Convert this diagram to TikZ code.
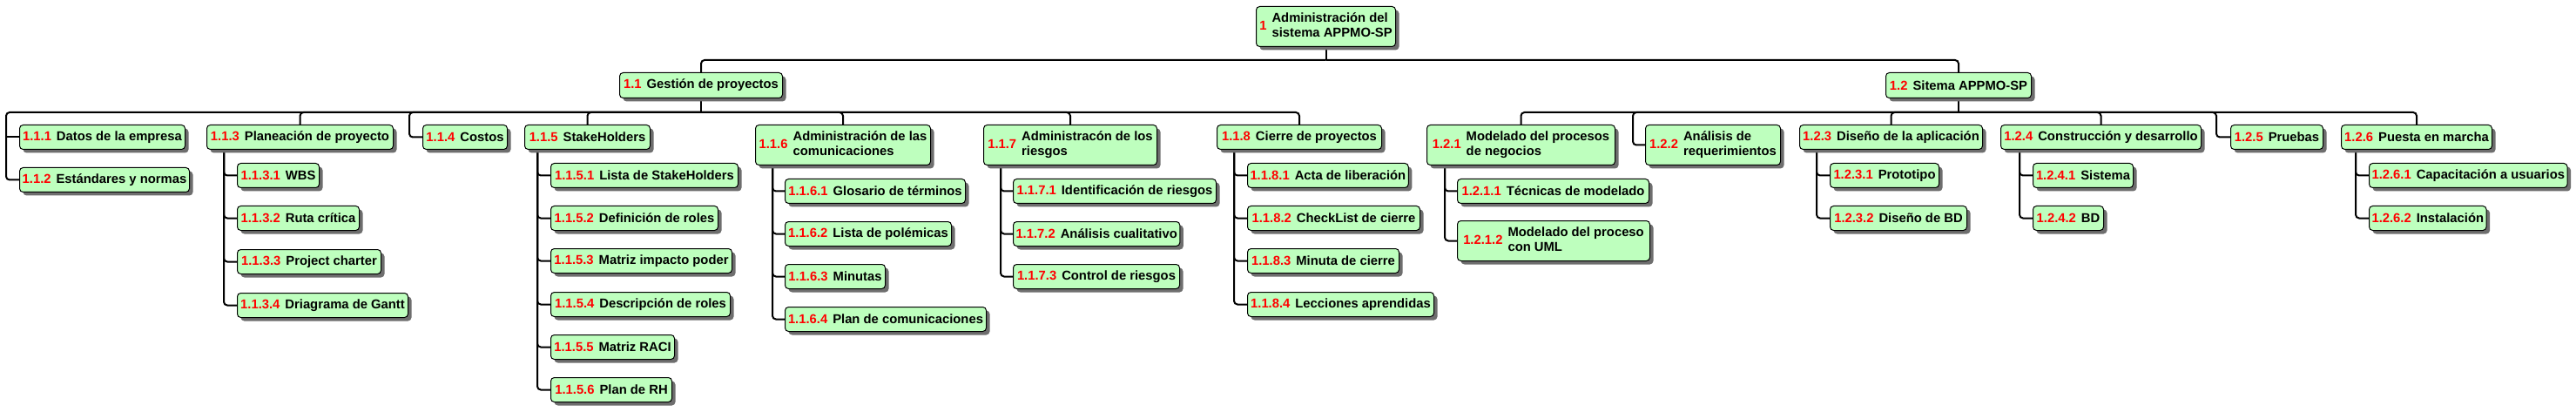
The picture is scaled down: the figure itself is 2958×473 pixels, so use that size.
\documentclass[tikz,border=0pt]{standalone}
\usepackage{fontspec}
\setmainfont{Liberation Sans}
\usetikzlibrary{shadows,backgrounds}
\definecolor{boxgreen}{RGB}{190,255,190}
\definecolor{numred}{RGB}{255,0,0}
\definecolor{shadowgray}{RGB}{110,110,110}
\newcommand{\wnum}[1]{\textcolor{numred}{#1}\hspace{6pt}}
\newcommand{\wtwo}[2]{\begin{tabular}{@{}l@{}}#1\\#2\end{tabular}}
\newcommand{\wbsnode}[6]{\node[wbsbox, minimum width={(#4-#2)*1pt}, minimum height={(#5-#3)*1pt}] (#1) at (#2,#3) {#6};}
\tikzset{
 wbsbox/.style={draw=black, line width=1pt, rounded corners=4pt, fill=boxgreen, anchor=north west,
   inner xsep=3pt, inner ysep=2pt, font=\fontsize{14.8}{16.5}\selectfont\bfseries,
   drop shadow={shadow xshift=4pt, shadow yshift=-4pt, fill=shadowgray, opacity=1}},
 conn/.style={draw=black, line width=2pt, rounded corners=4pt},
}
\begin{document}
\begin{tikzpicture}[x=1pt,y=-1pt]
\useasboundingbox (0,0) rectangle (2958,473);
% root and level 1
\wbsnode{root}{1442}{7}{1602}{53}{\wnum{1}\wtwo{Administración del}{sistema APPMO-SP}}
\wbsnode{n11}{711}{83}{898}{112}{\wnum{1.1}Gestión de proyectos}
\wbsnode{n12}{2165}{83}{2332}{112}{\wnum{1.2}Sitema APPMO-SP}
% 1.1 children
\wbsnode{n111}{22}{143}{212}{171}{\wnum{1.1.1}Datos de la empresa}
\wbsnode{n112}{22}{192}{217}{220}{\wnum{1.1.2}Estándares y normas}
\wbsnode{n113}{237}{143}{451}{171}{\wnum{1.1.3}Planeación de proyecto}
\wbsnode{n1131}{272}{187}{366}{215}{\wnum{1.1.3.1}WBS}
\wbsnode{n1132}{272}{236}{412}{264}{\wnum{1.1.3.2}Ruta crítica}
\wbsnode{n1133}{272}{286}{437}{314}{\wnum{1.1.3.3}Project charter}
\wbsnode{n1134}{272}{336}{468}{364}{\wnum{1.1.3.4}Driagrama de Gantt}
\wbsnode{n114}{485}{143}{582}{171}{\wnum{1.1.4}Costos}
\wbsnode{n115}{602}{143}{746}{171}{\wnum{1.1.5}StakeHolders}
\wbsnode{n1151}{632}{187}{847}{215}{\wnum{1.1.5.1}Lista de StakeHolders}
\wbsnode{n1152}{632}{236}{824}{264}{\wnum{1.1.5.2}Definición de roles}
\wbsnode{n1153}{632}{285}{840}{313}{\wnum{1.1.5.3}Matriz impacto poder}
\wbsnode{n1154}{632}{335}{838}{363}{\wnum{1.1.5.4}Descripción de roles}
\wbsnode{n1155}{632}{384}{774}{412}{\wnum{1.1.5.5}Matriz RACI}
\wbsnode{n1156}{632}{433}{771}{461}{\wnum{1.1.5.6}Plan de RH}
\wbsnode{n116}{867}{143}{1068}{189}{\wnum{1.1.6}\wtwo{Administración de las}{comunicaciones}}
\wbsnode{n1161}{901}{205}{1108}{233}{\wnum{1.1.6.1}Glosario de términos}
\wbsnode{n1162}{901}{254}{1092}{282}{\wnum{1.1.6.2}Lista de polémicas}
\wbsnode{n1163}{901}{303}{1016}{331}{\wnum{1.1.6.3}Minutas}
\wbsnode{n1164}{901}{352}{1132}{380}{\wnum{1.1.6.4}Plan de comunicaciones}
\wbsnode{n117}{1129}{143}{1328}{189}{\wnum{1.1.7}\wtwo{Administracón de los}{riesgos}}
\wbsnode{n1171}{1163}{205}{1396}{233}{\wnum{1.1.7.1}Identificación de riesgos}
\wbsnode{n1172}{1163}{254}{1354}{282}{\wnum{1.1.7.2}Análisis cualitativo}
\wbsnode{n1173}{1163}{303}{1354}{331}{\wnum{1.1.7.3}Control de riesgos}
\wbsnode{n118}{1397}{143}{1586}{171}{\wnum{1.1.8}Cierre de proyectos}
\wbsnode{n1181}{1432}{187}{1616}{215}{\wnum{1.1.8.1}Acta de liberación}
\wbsnode{n1182}{1432}{236}{1630}{264}{\wnum{1.1.8.2}CheckList de cierre}
\wbsnode{n1183}{1432}{285}{1606}{313}{\wnum{1.1.8.3}Minuta de cierre}
\wbsnode{n1184}{1432}{335}{1646}{363}{\wnum{1.1.8.4}Lecciones aprendidas}
% 1.2 children
\wbsnode{n121}{1638}{143}{1854}{189}{\wnum{1.2.1}\wtwo{Modelado del procesos}{de negocios}}
\wbsnode{n1211}{1673}{205}{1893}{233}{\wnum{1.2.1.1}Técnicas de modelado}
\wbsnode{n1212}{1673}{253}{1894}{299}{\wnum{1.2.1.2}\wtwo{Modelado del proceso}{con UML}}
\wbsnode{n122}{1889}{143}{2044}{189}{\wnum{1.2.2}\wtwo{Análisis de}{requerimientos}}
\wbsnode{n123}{2066}{143}{2276}{171}{\wnum{1.2.3}Diseño de la aplicación}
\wbsnode{n1231}{2101}{187}{2226}{215}{\wnum{1.2.3.1}Prototipo}
\wbsnode{n1232}{2101}{236}{2258}{264}{\wnum{1.2.3.2}Diseño de BD}
\wbsnode{n124}{2297}{143}{2527}{171}{\wnum{1.2.4}Construcción y desarrollo}
\wbsnode{n1241}{2334}{187}{2449}{215}{\wnum{1.2.4.1}Sistema}
\wbsnode{n1242}{2334}{236}{2415}{264}{\wnum{1.2.4.2}BD}
\wbsnode{n125}{2561}{143}{2667}{171}{\wnum{1.2.5}Pruebas}
\wbsnode{n126}{2688}{143}{2861}{171}{\wnum{1.2.6}Puesta en marcha}
\wbsnode{n1261}{2720}{187}{2946}{215}{\wnum{1.2.6.1}Capacitación a usuarios}
\wbsnode{n1262}{2720}{236}{2854}{264}{\wnum{1.2.6.2}Instalación}
% connectors
\begin{scope}[on background layer]
\fill[white] (0,0) rectangle (2958,473);
% root bus
\draw[conn] (root.south) -- ++(0,15) coordinate (b0);
\draw[conn] (b0) -| (n11.north);
\draw[conn] (b0) -| (n12.north);
% 1.1 bus
\draw[conn] (n11.south) -- ++(0,16) coordinate (b1);
\foreach \c in {n113,n115,n116,n117,n118} \draw[conn] (b1) -| (\c.north);
\draw[conn] (b1) -| ([xshift=-15pt]n112.west) -- (n112.west);
\draw[conn] ([xshift=-15pt]n111.west) -- (n111.west);
\draw[conn] (b1) -| ([xshift=-15pt]n114.west) -- (n114.west);
% 1.2 bus
\draw[conn] (n12.south) -- ++(0,16) coordinate (b2);
\foreach \c in {n121,n123,n124,n126} \draw[conn] (b2) -| (\c.north);
\draw[conn] (b2) -| ([xshift=-14pt]n122.west) -- (n122.west);
\draw[conn] (b2) -| ([xshift=-16pt]n125.west) -- (n125.west);
% child lines
\coordinate (v113) at ([xshift=-15pt]n1131.west);
\foreach \c in {n1131,n1132,n1133,n1134} \draw[conn] (v113 |- n113.south) |- (\c.west);
\coordinate (v115) at ([xshift=-15pt]n1151.west);
\foreach \c in {n1151,n1152,n1153,n1154,n1155,n1156} \draw[conn] (v115 |- n115.south) |- (\c.west);
\coordinate (v116) at ([xshift=-14pt]n1161.west);
\foreach \c in {n1161,n1162,n1163,n1164} \draw[conn] (v116 |- n116.south) |- (\c.west);
\coordinate (v117) at ([xshift=-14pt]n1171.west);
\foreach \c in {n1171,n1172,n1173} \draw[conn] (v117 |- n117.south) |- (\c.west);
\coordinate (v118) at ([xshift=-15pt]n1181.west);
\foreach \c in {n1181,n1182,n1183,n1184} \draw[conn] (v118 |- n118.south) |- (\c.west);
\coordinate (v121) at ([xshift=-14pt]n1211.west);
\foreach \c in {n1211,n1212} \draw[conn] (v121 |- n121.south) |- (\c.west);
\coordinate (v123) at ([xshift=-15pt]n1231.west);
\foreach \c in {n1231,n1232} \draw[conn] (v123 |- n123.south) |- (\c.west);
\coordinate (v124) at ([xshift=-15pt]n1241.west);
\foreach \c in {n1241,n1242} \draw[conn] (v124 |- n124.south) |- (\c.west);
\coordinate (v126) at ([xshift=-15pt]n1261.west);
\foreach \c in {n1261,n1262} \draw[conn] (v126 |- n126.south) |- (\c.west);
\end{scope}
\end{tikzpicture}
\end{document}
